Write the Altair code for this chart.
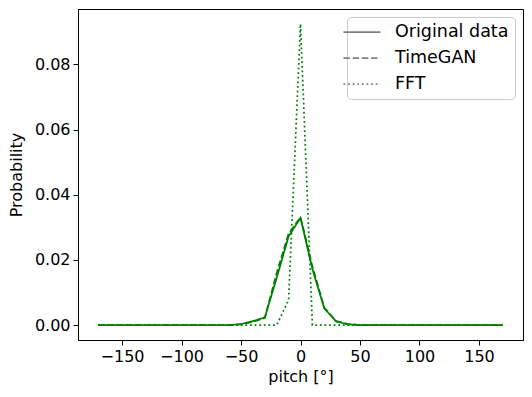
import altair as alt
import pandas as pd

pitch = list(range(-170, 171, 10))
original = [0.0] * 12 + [0.0003, 0.0012, 0.0023, 0.0145, 0.0272, 0.0329, 0.0172, 0.0051, 0.0011, 0.0002] + [0.0] * 13
timegan = [0.0] * 12 + [0.0002, 0.0010, 0.0021, 0.0160, 0.0280, 0.0331, 0.0180, 0.0053, 0.0012, 0.0003] + [0.0] * 13
fft = [0.0] * 16 + [0.0077, 0.0924] + [0.0] * 17

series_names = ["Original data", "TimeGAN", "FFT"]
x_ticks = [-150, -100, -50, 0, 50, 100, 150]
y_ticks = [0.0, 0.02, 0.04, 0.06, 0.08]

rows = []
for name, vals in zip(series_names, [original, timegan, fft]):
    for p, v in zip(pitch, vals):
        rows.append({"pitch": p, "prob": v, "series": name})
df = pd.DataFrame(rows)

FONT = "DejaVu Sans"
LW = 1.75

chart = alt.Chart(df).mark_line(color="#008000", strokeWidth=LW).encode(
    x=alt.X("pitch:Q",
            scale=alt.Scale(domain=[-187, 187], nice=False, zero=False),
            axis=alt.Axis(values=x_ticks, title="pitch [°]")),
    y=alt.Y("prob:Q",
            scale=alt.Scale(domain=[-0.0046, 0.097], nice=False, zero=False),
            axis=alt.Axis(values=y_ticks, format=".2f", title="Probability")),
    strokeDash=alt.StrokeDash(
        "series:N", sort=series_names,
        scale=alt.Scale(domain=series_names, range=[[1, 0], [6.4, 2.8], [1.75, 2.85]]),
        legend=alt.Legend(
            title=None, orient="top-right", offset=8,
            symbolType="M-2.3125,0H2.3125", symbolSize=256, symbolStrokeWidth=LW,
            symbolStrokeColor="#808080",
            labelFont=FONT, labelFontSize=17.5, labelColor="black",
            labelOffset=24, rowPadding=8, padding=6,
            strokeColor="#cccccc", fillColor="white", cornerRadius=4,
            labelLimit=0,
        ),
    ),
).properties(
    width=445, height=331,
    autosize=alt.AutoSizeParams(type="none"),
    padding={"left": 70, "top": 1, "right": 1, "bottom": 50},
).configure_view(
    stroke="black", strokeWidth=1
).configure_axis(
    grid=False, labelFont=FONT, titleFont=FONT, labelFontSize=16, titleFontSize=16,
    titleFontWeight="normal", labelColor="black", titleColor="black",
    tickColor="black", domainColor="black", tickSize=5, labelPadding=3,
    domainWidth=1, tickWidth=1,
).configure_axisY(
    titlePadding=10
).configure_axisX(
    titlePadding=4
)

chart.save("out.html", embed_options={"renderer": "svg", "actions": False})
